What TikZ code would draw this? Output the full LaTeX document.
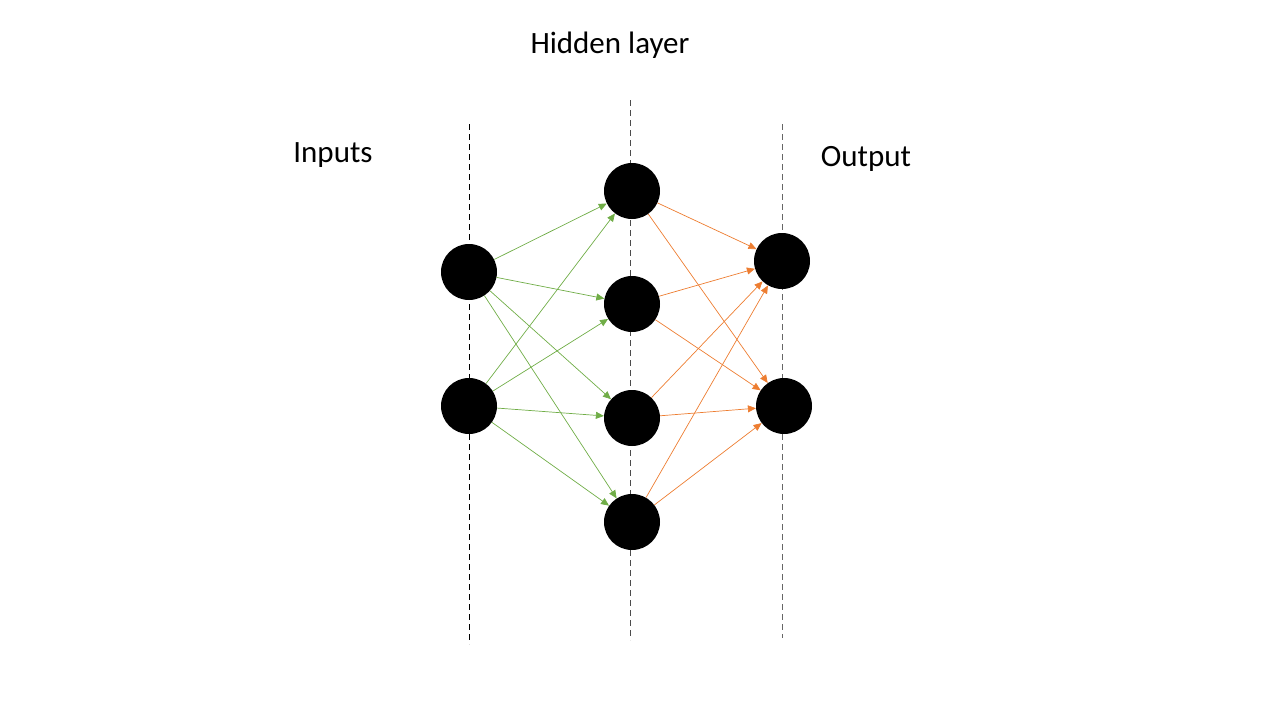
\documentclass[tikz,border=0pt]{standalone}
\usepackage{fontspec}
\setmainfont{Carlito}
\usetikzlibrary{arrows.meta}
\definecolor{ingreen}{RGB}{112,173,71}
\definecolor{outorange}{RGB}{237,125,49}
\tikzstyle{neuron}=[circle,fill=black,draw=none,minimum size=56pt,inner sep=0pt]
\tikzstyle{layerline}=[dash pattern=on 6pt off 4pt,line width=0.9pt]
\tikzstyle{label}=[font=\fontsize{31}{36}\selectfont,inner sep=0pt]
\tikzstyle{weight}=[line width=0.7pt,-{Triangle[length=8pt,width=7pt]}]

\begin{document}
\begin{tikzpicture}[x=1pt,y=-1pt]
	\useasboundingbox (0,0) rectangle (1280,720);
	% layer guides
	\coordinate (inTop) at (469,124);
	\coordinate (inBot) at (469,644);
	\coordinate (hidTop) at (630,100);
	\coordinate (hidBot) at (630,640);
	\coordinate (outTop) at (782,124);
	\coordinate (outBot) at (782,638);
	\draw[layerline,black] (inTop) -- (inBot);
	\draw[layerline,black!70] (hidTop) -- (hidBot);
	\draw[layerline,black!60] (outTop) -- (outBot);
	% neurons
	\node[neuron] (in1) at (469,272) {};
	\node[neuron] (in2) at (469,406) {};
	\node[neuron] (hid1) at (632,191) {};
	\node[neuron] (hid2) at (632,304) {};
	\node[neuron] (hid3) at (632,418) {};
	\node[neuron] (hid4) at (632,522) {};
	\node[neuron] (out1) at (782,261) {};
	\node[neuron] (out2) at (784,406) {};
	% labels
	\node[label] (inputs) at (333,155) {Inputs};
	\node[label] (hidden) at (610,45) {Hidden layer};
	\node[label] (output) at (866,159) {Output};
	% connections
	\foreach \i in {1,2}
		\foreach \h in {1,...,4}
			\draw[weight,ingreen] (in\i) -- (hid\h);
	\foreach \h in {1,...,4}
		\foreach \o in {1,2}
			\draw[weight,outorange] (hid\h) -- (out\o);
\end{tikzpicture}
\end{document}
